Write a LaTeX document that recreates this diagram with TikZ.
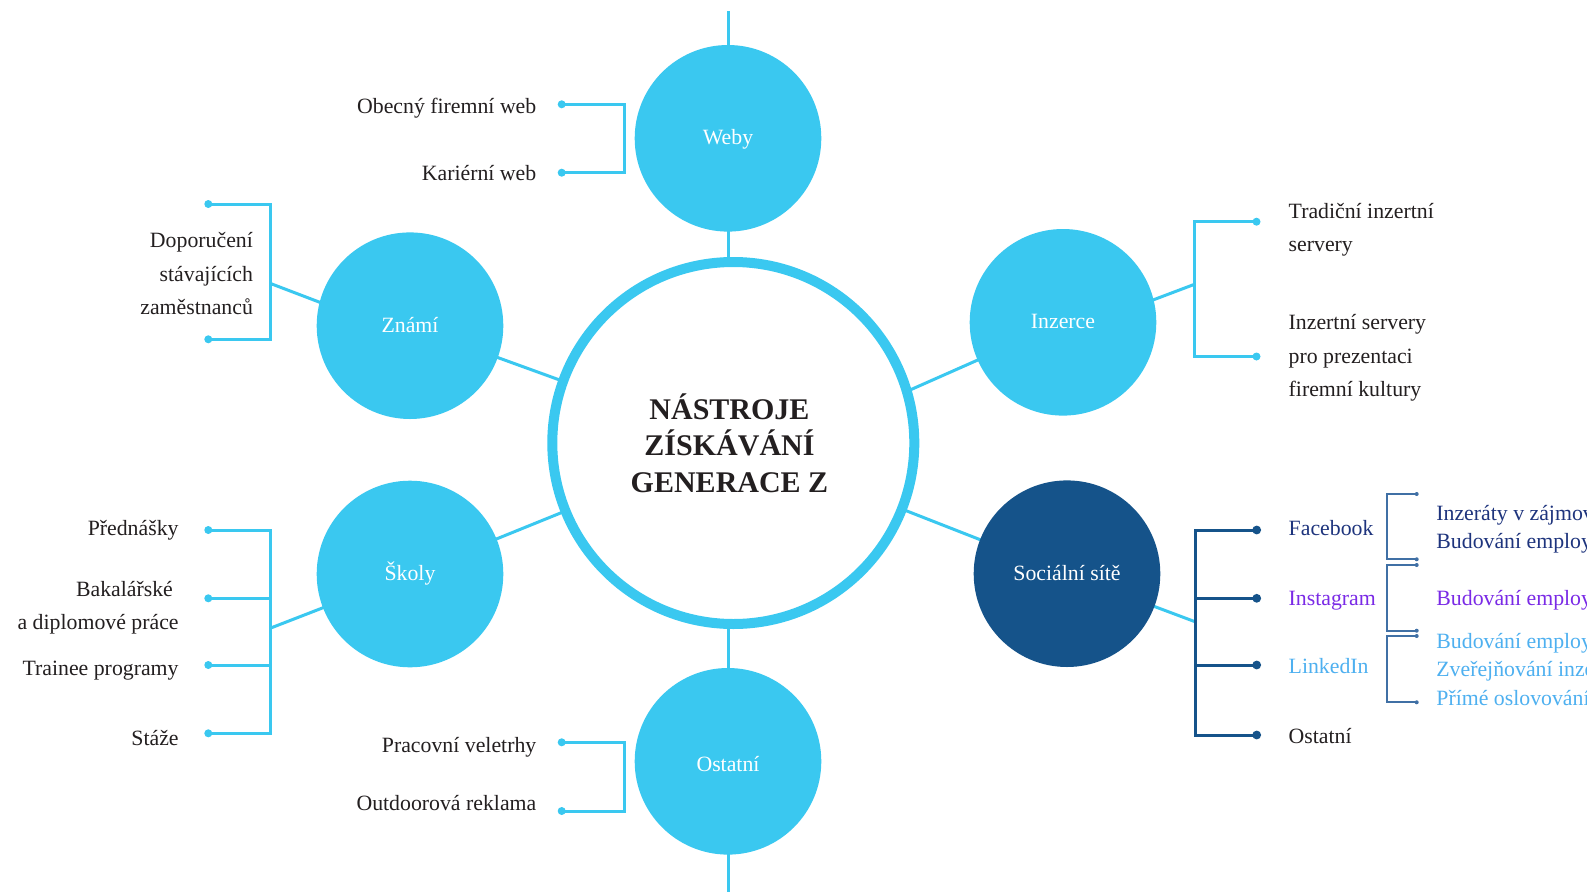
\documentclass[tikz,border=0pt]{standalone}
\usepackage{fontspec}
\setmainfont{Liberation Serif}
\definecolor{cyanc}{RGB}{58,200,240}
\definecolor{navyc}{RGB}{21,83,138}
\definecolor{brk}{RGB}{64,112,165}
\definecolor{fbc}{RGB}{30,52,125}
\definecolor{igc}{RGB}{122,42,230}
\definecolor{lic}{RGB}{78,176,240}
\definecolor{txt}{RGB}{35,31,32}
\begin{document}
\begin{tikzpicture}[x=0.5pt,y=-0.5pt,
  sat/.style={circle,fill=cyanc,minimum size=93.3pt,inner sep=0pt,text=white,font=\fontsize{10.9}{13}\selectfont,text height=0.86em,text depth=0.22em},
  conn/.style={draw=cyanc,line width=1.5pt},
  dk/.style={draw=navyc,line width=1.5pt},
  thinbr/.style={draw=brk,line width=1pt},
  lbl/.style={font=\fontsize{10.9}{13}\selectfont,text=txt,inner sep=0pt},
  lblr/.style={lbl,anchor=base east},
  lbll/.style={lbl,anchor=base west}]
\useasboundingbox (0,0) rectangle (1587,895);
\fill[white] (0,0) rectangle (1587,895);
% positions
\coordinate (pC) at (733.3,443);
\coordinate (pW) at (728,138.3);
\coordinate (pZ) at (410,325.7);
\coordinate (pI) at (1063,322.3);
\coordinate (pS) at (410,574);
\coordinate (pSS) at (1067,573.7);
\coordinate (pO) at (728,761.3);
\coordinate (topEnd) at (728,11);
\coordinate (botEnd) at (728,892);
\coordinate (cI) at (910,390);
% bracket points
\coordinate (w1) at (561.7,104.3);
\coordinate (w2) at (561.7,172.7);
\coordinate (o1) at (561.7,742.3);
\coordinate (o2) at (561.7,811);
\coordinate (z1) at (208.3,204);
\coordinate (z2) at (208.3,339.3);
\coordinate (jZ) at (270,283.3);
\coordinate (aZ) at (340,310);
\coordinate (s1) at (208.3,530);
\coordinate (s2) at (208.3,598.3);
\coordinate (s3) at (208.3,665);
\coordinate (s4) at (208.3,733.3);
\coordinate (jS) at (270,628.3);
\coordinate (i1) at (1256.5,221.7);
\coordinate (i2) at (1256.5,356.5);
\coordinate (jI) at (1194.5,284.3);
\coordinate (aI) at (1100,320);
\coordinate (d1) at (1256.7,530);
\coordinate (d2) at (1256.7,598.3);
\coordinate (d3) at (1256.7,665);
\coordinate (d4) at (1256.7,735);
\coordinate (jSS) at (1195,621.7);
\coordinate (f1) at (1416.7,494);
\coordinate (f2) at (1416.7,559.3);
\coordinate (g1) at (1416.7,565);
\coordinate (g2) at (1416.7,630.7);
\coordinate (l1) at (1416.7,636);
\coordinate (l2) at (1416.7,702.3);
% connectors
\draw[conn] (topEnd) -- (botEnd);
\draw[conn] (pZ) -- (pC);
\draw[conn] (pS) -- (pC);
\draw[conn] (pSS) -- (pC);
\draw[conn] (cI) -- (pI);
\draw[conn] (jZ) -- (aZ);
\draw[conn] (jS) -- (pS);
\draw[conn] (jI) -- (aI);
\draw[conn] (jSS) -- (pSS);
% brackets
\draw[conn] (w1) -- ++(62.6,0) |- (w2);
\draw[conn] (o1) -- ++(62.6,0) |- (o2);
\draw[conn] (z1) -| (jZ) |- (z2);
\draw[conn] (s1) -| (jS) |- (s4);
\draw[conn] (s2) -- (s2 -| jS);
\draw[conn] (s3) -- (s3 -| jS);
\draw[conn] (i1) -| (jI) |- (i2);
\draw[dk] (d1) -| (jSS) |- (d4);
\draw[dk] (d2) -- (d2 -| jSS);
\draw[dk] (d3) -- (d3 -| jSS);
\draw[thinbr] (f1) -- ++(-30,0) |- (f2);
\draw[thinbr] (g1) -- ++(-30,0) |- (g2);
\draw[thinbr] (l1) -- ++(-30,0) |- (l2);
\foreach \p in {w1,w2,o1,o2,z1,z2,s1,s2,s3,s4,i1,i2} \fill[cyanc] (\p) circle[radius=2pt];
\foreach \p in {d1,d2,d3,d4} \fill[navyc] (\p) circle[radius=2.2pt];
\foreach \p in {f1,f2,g1,g2,l1,l2} \fill[brk] (\p) circle[radius=1pt];
% circles
\node[sat] (W) at (pW) {Weby};
\node[sat] (Z) at (pZ) {Známí};
\node[sat] (I) at (pI) {Inzerce};
\node[sat] (S) at (pS) {Školy};
\node[sat,fill=navyc] (SS) at (pSS) {Sociální sítě};
\node[sat] (O) at (pO) {\raisebox{-2pt}{Ostatní}};
\node[circle,draw=cyanc,fill=white,line width=5pt,minimum size=181pt,inner sep=0pt] (C) at (pC) {};
\node[font=\fontsize{15}{18.25}\selectfont\bfseries,align=center,text=txt,inner sep=0pt] (title) at (729.5,443) {NÁSTROJE\\ZÍSKÁVÁNÍ\\GENERACE Z};
% labels
\node[lblr] (tw1) at (536.7,113.3) {Obecný firemní web};
\node[lblr] (tw2) at (536.7,180) {Kariérní web};
\node[lblr] (to1) at (536.7,752) {Pracovní veletrhy};
\node[lblr] (to2) at (536.7,810.3) {Outdoorová reklama};
\node[lblr] (tz1) at (253.3,247.7) {Doporučení};
\node[lblr] (tz2) at (253.3,281) {stávajících};
\node[lblr] (tz3) at (253.3,314.3) {zaměstnanců};
\node[lblr] (ts1) at (179,535) {Přednášky};
\node[lblr] (ts2) at (173.3,596) {Bakalářské};
\node[lblr] (ts3) at (179,629.3) {a diplomové práce};
\node[lblr] (ts4) at (179,675) {Trainee programy};
\node[lblr] (ts5) at (179,745) {Stáže};
\node[lbll] (ti1) at (1288.3,218.7) {Tradiční inzertní};
\node[lbll] (ti2) at (1288.3,251.5) {servery};
\node[lbll] (ti3) at (1288.3,329.3) {Inzertní servery};
\node[lbll] (ti4) at (1288.3,363.2) {pro prezentaci};
\node[lbll] (ti5) at (1288.3,396) {firemní kultury};
\node[lbll,text=fbc] (tfb) at (1288.3,535) {Facebook};
\node[lbll,text=igc] (tig) at (1288.3,605) {Instagram};
\node[lbll,text=lic] (tli) at (1288.3,673.3) {LinkedIn};
\node[lbll] (tos) at (1288.3,743.3) {Ostatní};
\node[lbll,text=fbc] (sf1) at (1436,520) {Inzeráty v zájmových skupinách};
\node[lbll,text=fbc] (sf2) at (1436,548.3) {Budování employer brandu};
\node[lbll,text=igc] (sg1) at (1436,605) {Budování employer brandu};
\node[lbll,text=lic] (sl1) at (1436,648.3) {Budování employer brandu};
\node[lbll,text=lic] (sl2) at (1436,676.7) {Zveřejňování inzerátů};
\node[lbll,text=lic] (sl3) at (1436,705) {Přímé oslovování};
\end{tikzpicture}
\end{document}
